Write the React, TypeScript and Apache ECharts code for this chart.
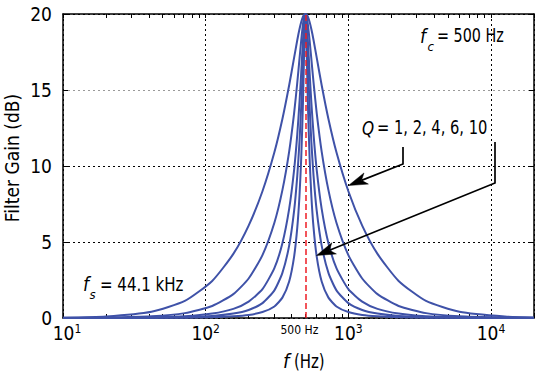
import React, { useEffect, useRef } from 'react';
import * as echarts from 'echarts';

// Frequencies (Hz) at which the curves were read
const freqHz = [
  10, 20, 41.67, 71.43, 111.1, 156.25, 200, 250, 303.03, 344.83, 384.62, 416.67, 438.6, 454.55, 467.29, 480.77, 490.2,
  500,
  510, 520, 535, 550, 570, 600, 650, 725, 825, 1000, 1250, 1600, 2250, 3500, 6000, 12500, 20000,
];

// Filter gain (dB) for each Q
const gainQ1 = [
  0.02, 0.1, 0.41, 1.12, 2.44, 4.22, 6.08, 8.34, 10.9, 13.09, 15.31, 17.13, 18.29, 19.01, 19.47, 19.82, 19.95,
  20.0,
  19.95, 19.82, 19.47, 19.01, 18.29, 17.13, 15.31, 13.09, 10.9, 8.34, 6.08, 4.22, 2.44, 1.12, 0.41, 0.1, 0.04,
];
const gainQ2 = [
  0.01, 0.03, 0.11, 0.32, 0.79, 1.57, 2.6, 4.14, 6.27, 8.41, 10.95, 13.48, 15.5, 17.06, 18.27, 19.34, 19.82,
  20.0,
  19.82, 19.34, 18.27, 17.06, 15.5, 13.48, 10.95, 8.41, 6.27, 4.14, 2.6, 1.57, 0.79, 0.32, 0.11, 0.03, 0.01,
];
const gainQ4 = [
  0.0, 0.01, 0.04, 0.11, 0.29, 0.6, 1.08, 1.9, 3.28, 4.92, 7.18, 9.75, 12.1, 14.21, 16.15, 18.29, 19.49,
  20.0,
  19.49, 18.29, 16.15, 14.21, 12.1, 9.75, 7.18, 4.92, 3.28, 1.9, 1.08, 0.6, 0.29, 0.11, 0.04, 0.01, 0.0,
];
const gainQ6 = [
  0.0, 0.0, 0.02, 0.05, 0.13, 0.29, 0.53, 0.98, 1.82, 2.97, 4.76, 7.06, 9.37, 11.63, 13.93, 16.9, 18.97,
  20.0,
  18.97, 16.9, 13.93, 11.63, 9.37, 7.06, 4.76, 2.97, 1.82, 0.98, 0.53, 0.29, 0.13, 0.05, 0.02, 0.0, 0.0,
];
const gainQ10 = [
  0.0, 0.0, 0.01, 0.02, 0.05, 0.11, 0.2, 0.39, 0.76, 1.34, 2.4, 4.04, 5.96, 8.08, 10.51, 14.2, 17.62,
  20.0,
  17.62, 14.2, 10.51, 8.08, 5.96, 4.04, 2.4, 1.34, 0.76, 0.39, 0.2, 0.11, 0.05, 0.02, 0.01, 0.0, 0.0,
];

const qValues = ['1', '2', '4', '6', '10'];
const gainSeries = [gainQ1, gainQ2, gainQ4, gainQ6, gainQ10];

const centerFreqHz = 500;
const xMin = 10;
const xMax = 20000;
const xLabelValues = [10, 100, 500, 1000, 10000];
const minorTickValues = [
  10, 20, 30, 40, 50, 60, 70, 80, 90,
  100, 200, 300, 400, 500, 600, 700, 800, 900,
  1000, 2000, 3000, 4000, 5000, 6000, 7000, 8000, 9000,
  10000, 20000,
];
const yMin = 0;
const yMax = 20;
const yInterval = 5;

const FONT = "'Liberation Sans Narrow', 'DejaVu Sans Condensed', 'Arial Narrow', sans-serif";
const BLUE = '#3f52a8';
const BLACK = '#000';

function arrowGraphics(pts: number[][]) {
  const [x0, y0] = pts[pts.length - 2];
  const [x1, y1] = pts[pts.length - 1];
  const dx = x1 - x0;
  const dy = y1 - y0;
  const len = Math.hypot(dx, dy);
  const ux = dx / len;
  const uy = dy / len;
  const L = 19;
  const H = 6;
  const N = 5;
  const bx = x1 - ux * L;
  const by = y1 - uy * L;
  const nx = -uy;
  const ny = ux;
  const notch = [x1 - ux * (L - N), y1 - uy * (L - N)];
  const head = [
    [x1, y1],
    [bx + nx * H, by + ny * H],
    notch,
    [bx - nx * H, by - ny * H],
  ];
  const linePts = pts.slice(0, -1).concat([notch]);
  return [
    {
      type: 'polyline',
      z: 100,
      shape: { points: linePts },
      style: { stroke: BLACK, lineWidth: 1.7, fill: null },
    },
    {
      type: 'polygon',
      z: 100,
      shape: { points: head },
      style: { fill: BLACK, stroke: BLACK, lineWidth: 0.5 },
    },
  ];
}

function txt(x: number, y: number, text: string, size: number, italic = false, align = 'left', extra: any = {}) {
  return {
    type: 'text',
    z: 100,
    x,
    y,
    ...extra,
    style: {
      text,
      fill: BLACK,
      fontSize: size,
      fontFamily: FONT,
      fontStyle: italic ? 'italic' : 'normal',
      align,
      verticalAlign: 'middle',
    },
  };
}

export default function App() {
  const ref = useRef<HTMLDivElement>(null);

  useEffect(() => {
    if (!ref.current) return;
    const chart = echarts.init(ref.current, null, { renderer: 'svg' });

    const axisLineStyle = { color: BLACK, width: 1.5 };

    const series: any[] = [
      {
        type: 'line',
        name: 'fc',
        xAxisIndex: 0,
        yAxisIndex: 0,
        data: [],
        z: 2,
        markLine: {
          silent: true,
          symbol: ['none', 'none'],
          label: { show: false },
          lineStyle: { color: '#ee1c25', type: [6, 3], width: 1.5, opacity: 1 },
          data: [{ xAxis: centerFreqHz }],
        },
      },
    ];

    gainSeries.forEach((g, i) => {
      series.push({
        type: 'line',
        name: 'Q = ' + qValues[i],
        xAxisIndex: 0,
        yAxisIndex: 0,
        data: freqHz.map((f, j) => [f, g[j]]),
        showSymbol: false,
        symbol: 'none',
        smooth: 0.2,
        lineStyle: { color: BLUE, width: 2 },
        itemStyle: { color: BLUE },
        z: 3,
      });
    });

    const option: any = {
      animation: false,
      backgroundColor: '#fff',
      grid: {
        left: 63,
        right: 1,
        top: 14,
        bottom: 57,
        containLabel: false,
        outerBoundsMode: 'none',
      },
      xAxis: [
        {
          type: 'log',
          logBase: 10,
          min: xMin,
          max: xMax,
          position: 'bottom',
          axisLine: { show: true, onZero: false, lineStyle: axisLineStyle },
          axisTick: { show: true, inside: true, length: 5, lineStyle: { color: BLACK } },
          axisLabel: {
            customValues: xLabelValues,
            margin: 5,
            color: BLACK,
            formatter: (v: number) => {
              if (Math.abs(v - centerFreqHz) < 1) return '{s|500 Hz}';
              const e = Math.round(Math.log10(v));
              if (e === 1) return '{b1|10}{sup|' + e + '}';
              return '{b|10}{sup|' + e + '}';
            },
            rich: {
              b: { fontSize: 19, fontFamily: FONT, color: BLACK, lineHeight: 20 },
              b1: { fontSize: 19, fontFamily: FONT, color: BLACK, lineHeight: 20, padding: [0, 0, 0, 8] },
              sup: { fontSize: 12, fontFamily: FONT, color: BLACK, lineHeight: 12, verticalAlign: 'top' },
              s: { fontSize: 12, fontFamily: FONT, color: BLACK, lineHeight: 14, padding: [0, 12, 0, 0] },
            },
          },
          splitLine: { show: true, lineStyle: { color: BLACK, type: [2, 3], width: 1 } },
        },
        {
          type: 'log',
          logBase: 10,
          min: xMin,
          max: xMax,
          position: 'bottom',
          axisLine: { show: false },
          axisTick: { show: true, inside: true, length: 4, customValues: minorTickValues, lineStyle: { color: BLACK } },
          axisLabel: { show: false },
          splitLine: { show: false },
        },
        {
          type: 'log',
          logBase: 10,
          min: xMin,
          max: xMax,
          position: 'top',
          axisLine: { show: true, onZero: false, lineStyle: axisLineStyle },
          axisTick: { show: true, inside: true, length: 4, customValues: minorTickValues, lineStyle: { color: BLACK } },
          axisLabel: { show: false },
          splitLine: { show: false },
        },
      ],
      yAxis: [
        {
          type: 'value',
          min: yMin,
          max: yMax,
          interval: yInterval,
          position: 'left',
          axisLine: { show: true, onZero: false, lineStyle: axisLineStyle },
          axisTick: { show: true, inside: true, length: 5, lineStyle: { color: BLACK } },
          axisLabel: { color: BLACK, fontSize: 19, fontFamily: FONT, margin: 11, lineHeight: 12 },
          splitLine: {
            show: true,
            lineStyle: { color: [BLACK, BLACK, BLACK, '#9a9a9a', BLACK], type: [2, 3], width: 1 },
          },
        },
        {
          type: 'value',
          min: yMin,
          max: yMax,
          interval: yInterval,
          position: 'right',
          axisLine: { show: true, onZero: false, lineStyle: axisLineStyle },
          axisTick: { show: true, inside: true, length: 5, lineStyle: { color: BLACK } },
          axisLabel: { show: false },
          splitLine: { show: false },
        },
      ],
      series,
      graphic: [
        txt(12, 158, 'Filter Gain (dB)', 19, false, 'center', { rotation: Math.PI / 2 }),
        txt(283, 361, 'f', 20, true),
        txt(294, 361, '(Hz)', 20, false, 'left', { scaleX: 0.83 }),
        txt(420, 36, 'f', 19, true),
        txt(427.5, 46, 'c', 13, true),
        txt(437, 36, '= 500 Hz', 19, false, 'left', { scaleX: 0.84 }),
        txt(362, 128, 'Q', 19, true, 'left', { scaleX: 0.9 }),
        txt(377, 128, '= 1, 2, 4, 6, 10', 19, false, 'left', { scaleX: 0.86 }),
        txt(83, 284, 'f', 19, true),
        txt(89.5, 294, 's', 13, true),
        txt(100, 284, '= 44.1 kHz', 19, false, 'left', { scaleX: 0.88 }),
        ...arrowGraphics([
          [403, 147],
          [403, 164],
          [348.5, 185.5],
        ]),
        ...arrowGraphics([
          [495, 142],
          [495, 183],
          [316.5, 255.5],
        ]),
      ],
    };

    chart.setOption(option);
    return () => {
      chart.dispose();
    };
  }, []);

  return (
    <div
      ref={ref}
      style={{ position: 'fixed', left: 0, top: 0, width: 535, height: 375, background: '#fff' }}
    />
  );
}
